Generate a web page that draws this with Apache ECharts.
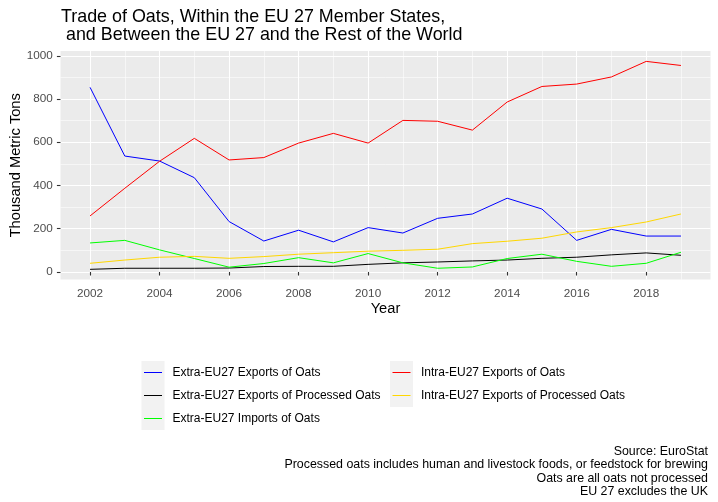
<!DOCTYPE html>
<html>
<head>
<meta charset="utf-8">
<script src="https://cdn.jsdelivr.net/npm/echarts@6/dist/echarts.min.js"></script>
<style>
html,body{margin:0;padding:0;background:#fff;}
#chart{width:718px;height:502px;}
</style>
</head>
<body>
<div id="chart"></div>
<script>
var years = [2002,2003,2004,2005,2006,2007,2008,2009,2010,2011,2012,2013,2014,2015,2016,2017,2018,2019];
var extraExportsOats      = [854,536,513,436,233,143,193,139,205,180,248,268,341,291,146,197,166,166];
var extraExportsProcessed = [12,17,17,17,18,25,26,26,35,42,46,51,55,63,68,79,88,77];
var extraImportsOats      = [134,146,102,62,22,39,66,42,85,42,17,23,62,82,49,26,40,91];
var intraExportsOats      = [259,387,512,618,518,529,596,641,596,701,697,656,786,858,869,902,974,955];
var intraExportsProcessed = [40,55,68,72,63,71,82,89,96,100,105,131,142,156,185,205,231,268];

var seriesNames = [
  'Extra-EU27 Exports of Oats',
  'Extra-EU27 Exports of Processed Oats',
  'Extra-EU27 Imports of Oats',
  'Intra-EU27 Exports of Oats',
  'Intra-EU27 Exports of Processed Oats'
];
var seriesValues = [extraExportsOats, extraExportsProcessed, extraImportsOats, intraExportsOats, intraExportsProcessed];
var seriesColors = ['#0000FF', '#000000', '#00FF00', '#FF0000', '#FFD700'];

var xMajorTicks = [2002,2004,2006,2008,2010,2012,2014,2016,2018];
var xMinorTicks = [2003,2005,2007,2009,2011,2013,2015,2017,2019];
var yMajorTicks = [0,200,400,600,800,1000];
var yMinorTicks = [100,300,500,700,900];

var titleText = 'Trade of Oats, Within the EU 27 Member States,\n and Between the EU 27 and the Rest of the World';
var captionText = 'Source: EuroStat\nProcessed oats includes human and livestock foods, or feedstock for brewing\nOats are all oats not processed\nEU 27 excludes the UK';

var FONT = '"Liberation Sans", Arial, sans-serif';
var keyIcon = 'path://M0,0h0.01v0.01h-0.01z M2.5,11h18v1.1h-18z M22.99,22.99h0.01v0.01h-0.01z';

var xMin = 2001.15, xMax = 2019.85, yMin = -35, yMax = 1022;

function pairs(vals){ return years.map(function(y,i){ return [y, vals[i]]; }); }
function plain(v){ return String(v); }

var series = seriesNames.map(function(n, i){
  return {
    name: n, type: 'line', xAxisIndex: 0, yAxisIndex: 0,
    data: pairs(seriesValues[i]),
    symbol: 'none', showSymbol: false,
    lineStyle: {color: seriesColors[i], width: 1},
    itemStyle: {color: seriesColors[i]},
    emphasis: {disabled: true},
    silent: true
  };
});

function legendItems(from, to){
  var out = [];
  for (var i = from; i < to; i++) {
    out.push({name: seriesNames[i], icon: keyIcon,
      itemStyle: {color: seriesColors[i], borderWidth: 0, opacity: 1},
      lineStyle: {width: 0}});
  }
  return out;
}

var legendCommon = {
  orient: 'vertical', itemWidth: 23, itemHeight: 23, itemGap: 0, padding: 0,
  icon: keyIcon, selectedMode: false,
  textStyle: {fontSize: 12, color: '#000', fontFamily: FONT, padding: [0,0,0,3]}
};

var option = {
  animation: false,
  textStyle: {fontFamily: FONT},
  title: [
    {text: titleText, left: 61, top: 8.5, padding: 0,
     textStyle: {fontSize: 17.9, fontWeight: 'normal', color: '#000', lineHeight: 17.4, fontFamily: FONT}},
    {text: captionText, left: 708, top: 445, padding: 0, textAlign: 'right',
     textStyle: {fontSize: 12.4, fontWeight: 'normal', color: '#000', lineHeight: 13.3, align: 'right', fontFamily: FONT}}
  ],
  grid: {left: 60.5, top: 51, width: 650, height: 228.5, show: true, backgroundColor: '#EBEBEB', borderWidth: 0,
         containLabel: false, outerBoundsMode: 'none'},
  xAxis: [
    {type: 'value', min: xMin, max: xMax, position: 'bottom',
     name: 'Year', nameLocation: 'middle', nameGap: 22, nameMoveOverlap: false,
     nameTextStyle: {fontSize: 14.67, color: '#000', fontFamily: FONT},
     axisLine: {show: false},
     axisTick: {show: true, length: 3.6, customValues: xMajorTicks, lineStyle: {color: '#333333', width: 1.1}},
     axisLabel: {customValues: xMajorTicks, formatter: plain, color: '#4D4D4D', fontSize: 11.73, margin: 8, fontFamily: FONT},
     splitLine: {show: true, lineStyle: {color: '#FFFFFF', width: 1.1}}
    },
    {type: 'value', min: xMin, max: xMax, position: 'bottom',
     axisLine: {show: false},
     axisTick: {show: false, customValues: xMinorTicks},
     axisLabel: {show: false, customValues: xMinorTicks},
     splitLine: {show: true, lineStyle: {color: '#FFFFFF', width: 0.55}}
    }
  ],
  yAxis: [
    {type: 'value', min: yMin, max: yMax, position: 'left',
     name: 'Thousand Metric Tons', nameLocation: 'middle', nameGap: 37, nameMoveOverlap: false,
     nameTextStyle: {fontSize: 14.67, color: '#000', fontFamily: FONT},
     axisLine: {show: false},
     axisTick: {show: true, length: 3.6, customValues: yMajorTicks, lineStyle: {color: '#333333', width: 1.1}},
     axisLabel: {customValues: yMajorTicks, formatter: plain, color: '#4D4D4D', fontSize: 11.73, margin: 7.8, fontFamily: FONT},
     splitLine: {show: true, lineStyle: {color: '#FFFFFF', width: 1.1}}
    },
    {type: 'value', min: yMin, max: yMax, position: 'left',
     axisLine: {show: false},
     axisTick: {show: false, customValues: yMinorTicks},
     axisLabel: {show: false, customValues: yMinorTicks},
     splitLine: {show: true, lineStyle: {color: '#FFFFFF', width: 0.55}}
    }
  ],
  legend: [
    Object.assign({}, legendCommon, {left: 141.5, top: 361, data: legendItems(0,3)}),
    Object.assign({}, legendCommon, {left: 390, top: 361, data: legendItems(3,5)})
  ],
  graphic: [
    {type: 'rect', z: 0, silent: true, shape: {x: 141.5, y: 361, width: 23, height: 69}, style: {fill: '#F2F2F2'}},
    {type: 'rect', z: 0, silent: true, shape: {x: 390, y: 361, width: 23, height: 46}, style: {fill: '#F2F2F2'}}
  ],
  series: series
};

var chart = echarts.init(document.getElementById('chart'), null, {renderer: 'canvas'});
chart.setOption(option);
</script>
</body>
</html>
